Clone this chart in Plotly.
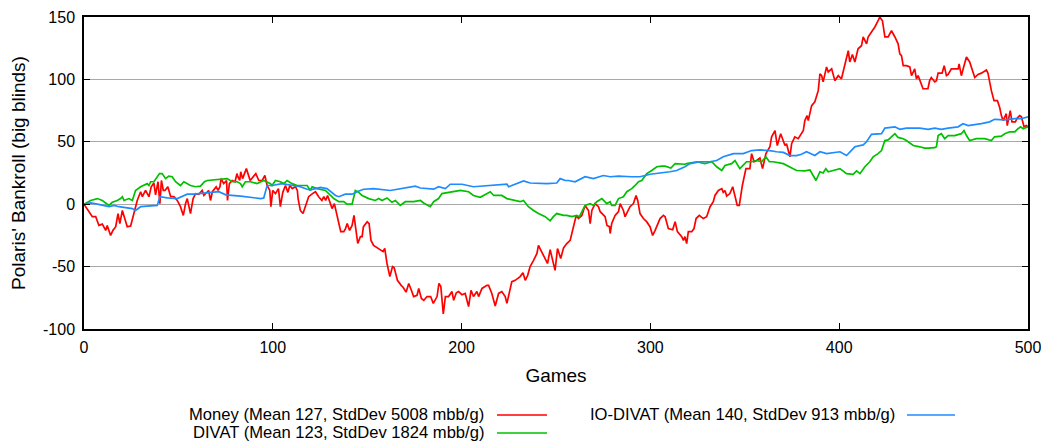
import plotly.graph_objects as go

# ---------------- data ----------------
money_games = [0, 4.4, 6.2, 7.9, 9.7, 11.5, 12.3, 14.1, 15.3, 16.8, 18, 19, 20.3, 21.2, 22.9, 24.7, 25.9, 27, 28.2, 30,
               30.9, 32.6, 33.5, 34.4, 35.6, 37, 37.9, 39.2, 40.2, 41, 42, 42.9, 44.4, 45.9, 47.6, 49.4, 51.1, 52.6, 53.8, 54.7,
               56.4, 57.8, 59.1, 60.8, 62.6, 63.5, 66, 67, 68, 70, 71, 72, 72.6, 74, 75.5, 76, 77, 78.5, 80, 81,
               81.5, 82.5, 83, 84, 86, 87, 88, 91, 92.6, 94.4, 95.8, 97, 98.4, 99, 100, 101.4, 103, 104, 105.3, 106.7,
               108, 109, 110.3, 112, 113, 113.4, 114.6, 116, 117, 118, 119, 121, 122.6, 124.3, 126, 127, 128, 129, 131.4, 132.6,
               133.7, 135, 136, 137.6, 138.5, 139.4, 140.7, 142, 143, 144, 145, 146.4, 147.3, 148, 150, 151, 152, 153.4, 155, 157,
               158.4, 159.3, 160.5, 162, 163.4, 164.3, 166, 168, 169, 170.6, 172, 173.4, 174.6, 176.4, 177.3, 178.7, 180, 181.7, 183.6, 185,
               187, 188, 189, 190.3, 191.4, 193.1, 194.9, 195.8, 197.2, 198.4, 200.2, 201.9, 203.7, 205, 206.3, 208.1, 209, 210.8, 213.4, 214.3,
               216, 217.8, 219.6, 221.3, 223.1, 224, 224.9, 226.6, 228.4, 231, 232.5, 233.7, 235, 236.3, 238.1, 239.9, 240.7, 242.5, 245.5, 246.9,
               247.8, 249.5, 250.8, 251.8, 252.5, 254, 255.7, 257.5, 259.3, 260.7, 261.9, 263.7, 265.4, 267.2, 268.1, 269, 270.7, 272.5, 273.4, 276,
               277, 278.3, 278.7, 279.5, 281.3, 283.1, 284, 285.7, 286.6, 289.2, 291, 292.4, 293.3, 294.5, 296.3, 298, 299.8, 301.2, 302.5, 303.9,
               305.1, 306.9, 307.8, 309.5, 311.8, 313.1, 314.3, 316.6, 317.5, 318.3, 319.2, 320.1, 321.9, 323.1, 324.2, 325.9, 328, 329.8, 331.6, 333.3,
               334.2, 336, 337.8, 338.6, 339.5, 340.4, 342.1, 343.6, 344.8, 346, 347.1, 348.7, 350.6, 352.7, 353.6, 354.9, 356.3, 358, 359.4, 361.2,
               363.3, 364.2, 366, 367.2, 369, 371.3, 372.1, 373.9, 374.8, 376.5, 378.3, 380, 381, 381.8, 383, 383.6, 385.4, 387.1, 388.9, 389.8,
               390.7, 391.5, 393.3, 394.2, 396, 397.7, 399.5, 401.2, 403, 404.8, 405.6, 407, 408.3, 410, 411.8, 412.7, 414.5, 415.3, 417.1, 418.9,
               420.6, 421.5, 422.9, 424.2, 425.9, 427.7, 429.5, 431.2, 432.1, 433, 433.9, 435.6, 437.4, 438.3, 440, 440.9, 441.8, 442.7, 444.4, 447,
               447.9, 448.8, 450.6, 451.5, 452.4, 454.5, 455.6, 456.8, 457.7, 459.4, 463, 463.5, 464.7, 466.1, 467.4, 469.1, 470.4, 471.8, 473.5, 475.3,
               478, 478.8, 480.6, 482, 483.8, 485, 485.9, 486.8, 488.5, 489, 490.6, 491.5, 493.3, 494.3, 495.6, 496.5, 497.9, 499.1, 500]
money = [0, -10, -10, -17, -16, -21, -17, -25, -21, -18, -7.5, -15.5, -5, -10, -18, -17.5, -10, -2, 3, 10,
         6, 11, 8.5, 6, 14, 17, 7.5, 18, 0.5, 19, 11, 11, 14, 6, 6, 3, -2, -9, 0.5, 4.5,
         -7.5, 4.5, 8.5, 8, 11, 7, 11, 3, 10, 14, 11, 14, 20.5, 16.5, 19, 3, 16.5, 19, 18, 24.5,
         22, 19, 26, 20.5, 28.5, 24.5, 19, 24.5, 19, 19, 23, 15, 11, -2, 11, 8.5, 12.5, -2, 9.5, 15,
         9.5, 15, 12.5, 14, 11, 4.5, -5, -7.5, -3.5, 0.5, 6, 8.5, 10, 6, 3, 6, 3, 7, -3.5, 0.5,
         -6, -15.5, -22, -22, -19.5, -15.5, -21, -17, -9, -21, -31.5, -26, -26, -18, -14, -15.5, -29, -33, -34.5, -37,
         -38, -35.5, -47.5, -58, -50, -51, -61, -65, -66.5, -70.5, -63.5, -69, -74, -73, -67.5, -75.5, -77, -74, -74, -79.5,
         -74, -63.5, -66, -88, -74, -74, -70, -77, -71, -70, -72.5, -71.5, -82, -69, -74, -70, -74, -67.5, -65, -65,
         -71.5, -81.5, -71.5, -70, -74, -79.5, -74, -62, -61, -58, -55, -61, -57, -50, -45, -39.5, -33, -38.5, -47.5, -36.5,
         -42, -53, -35.5, -41, -43.5, -35, -31.5, -29, -18, -9, -11.5, -9, -1, -5, -15.5, -5, 0.5, -2, -6, -10,
         -17, -18, -23.5, -15.5, -9, -6, 0.5, -5, -10, -2, 0.5, 7, 3, -7.5, -11.5, -14, -18, -25, -21, -15.5,
         -11.5, -9, -10, -19.5, -20.5, -14, -22, -26, -29, -26, -31.5, -22, -22, -19.5, -11.5, -9, -11.5, -10, -2, 2,
         7, 11, 12.5, 9.5, 11, 6.5, 8.5, 14, 6, -1, -1, 15, 28.5, 28.5, 40.5, 34, 35, 37, 28.5, 40.5,
         46, 54, 59, 47, 56.5, 47, 48.5, 38, 48.5, 54, 52.5, 56.5, 59, 67, 71, 67, 79, 82, 91, 104.5,
         103, 98, 110, 106, 108.5, 99, 103, 100.5, 111, 123, 114, 120, 114, 124.5, 127, 134, 128.5, 134, 138, 142,
         147, 150, 147, 134, 134, 139, 134, 128.5, 120.5, 119, 111, 111, 110, 103, 108.5, 100.5, 103, 99, 92.5, 92.5,
         99, 101.5, 98, 99, 105, 105, 111, 103, 104, 108.5, 108.5, 112.5, 103, 111, 118, 114, 108.5, 101.5, 104, 105,
         107.5, 105, 91, 83, 83, 77.5, 71, 67, 72.5, 63, 75, 66, 66, 69, 71, 70, 62, 63, 62]

divat_games = [0, 3.5, 7.1, 9.7, 13.2, 15, 17.6, 19.4, 20.3, 21.2, 23.8, 25.6, 27.3, 30, 33.5, 34.4, 35.3, 37, 40, 41.4,
               43.2, 44.9, 46.7, 48.5, 51.1, 52.9, 56.4, 59.1, 61.7, 63.8, 65.3, 70.5, 75.8, 78.5, 81.1, 82.9, 83.8, 85.5, 88.2, 91.7,
               95.2, 98.8, 99.6, 101.4, 104, 105.8, 107.6, 110.2, 112.9, 118.2, 119.9, 120.8, 123.5, 127.9, 130.5, 132.3, 135, 137.6, 139.3, 142,
               143.7, 145.5, 147.3, 150.8, 154.3, 156.1, 157.8, 160.5, 163.1, 164.9, 167.5, 170.2, 174.6, 178.2, 179.9, 183.4, 185.2, 187.8, 189.6, 191.4,
               194, 199.3, 203.7, 206.3, 209.9, 211.6, 215.2, 217, 221.3, 224, 227.5, 231, 232.8, 235.4, 238.1, 240.7, 244.3, 246.9, 248.6, 250.4,
               254, 255.7, 258.4, 261, 262.4, 264.2, 265.4, 268.1, 269.8, 271.6, 274.3, 276.9, 278.7, 279.5, 281.3, 283.1, 285.7, 287.5, 290.1, 291.9,
               293.7, 295.4, 298.1, 300.7, 303.4, 306, 307.8, 310.8, 313.1, 318.3, 319.2, 324.5, 328.9, 332.5, 335.1, 337.8, 339.5, 343, 344.8, 347.4,
               349.2, 350.9, 353.6, 356.3, 358.9, 361.2, 363, 365, 370.4, 373.9, 377.4, 381.8, 384.5, 386.2, 387.7, 389.8, 391.5, 392.9, 394.2, 396.8,
               400.4, 403.9, 407.4, 409.2, 411, 413.6, 416.2, 418, 420.6, 422.4, 424.2, 425.9, 428.6, 429.5, 431.2, 433.9, 435.6, 439.2, 442.7, 445.3,
               447.1, 450.6, 451.5, 452.4, 454.1, 455.9, 457.7, 461.2, 464.7, 466.1, 467.4, 469.1, 472.7, 477.1, 480.6, 482.3, 485.9, 487.7, 490.3, 493,
               494.7, 496.1, 497.4, 500]
divat = [0, 3, 4.5, 3, -1, 1.5, 3, 4.5, 6, 3, 4.5, 3, 11, 14, 16.5, 15, 18, 18, 24.5, 24.5,
         20.5, 22.5, 22, 18, 15, 18, 15, 14, 14.5, 18, 19, 20, 20.5, 18, 18, 16.5, 14, 18, 18, 16.5,
         19, 16.5, 15, 19, 18, 16.5, 19, 16.5, 15, 15, 11, 14, 12.5, 11, 7, 4.5, 2, 2, 0, 0,
         11, 9.5, 7, 4.5, 3, 4.5, 3, 5, 1.5, 3, -1, 2, 2, 3, 1, -2, 2, 4.5, 8.5, 9,
         10, 11, 10, 7, 5.5, 7, 10, 7, 7, 4.5, 3, 2, 3, -2, -5, -7.5, -10, -13.3, -10, -7.5,
         -9, -9, -10, -9, -10, -5, -1, 0.5, -1, 2, 4.5, 0.5, 2, -1, -1, 4.5, 6, 10, 12.5, 15,
         18, 19, 24.5, 27, 30, 30.5, 30.5, 29, 32.5, 32, 32.5, 34, 32.5, 34, 30, 27, 31, 32.5, 35, 28.5,
         31, 34, 34, 35, 34, 38, 34, 34, 32.5, 30, 27, 26.7, 27.5, 23, 19, 26, 25, 28.5, 26, 27,
         28.5, 24.5, 24, 26.7, 24.5, 30, 34, 38, 40.5, 43, 51, 51.5, 55, 56.5, 53.5, 52.5, 51, 47, 46, 45,
         45, 45.3, 46, 55, 56.5, 52.5, 55, 55, 56.5, 59, 55, 51, 52.5, 52.5, 51, 54, 54.5, 56.5, 58, 58,
         60.5, 62, 60.5, 62]

io_divat_games = [0, 3.5, 7.1, 13.2, 15.9, 18.5, 25.6, 27.3, 30, 38.8, 40.2, 44.1, 49.4, 52, 54.7, 58.2, 61.7, 65.3, 71.4, 75.1,
                  83, 93.5, 95.2, 97, 99.6, 104.9, 112, 114.6, 118.2, 119.9, 122.6, 125.2, 128.7, 133.2, 135, 138.4, 142, 144.6, 148.1, 153.4,
                  162.2, 165.8, 169.3, 175.5, 178.2, 185.2, 187.8, 191.4, 194, 200.2, 206.3, 215.2, 224, 224.9, 229.3, 232.8, 236.3, 245.2, 250.4, 252.2,
                  254.9, 256.6, 260.1, 265.4, 269.8, 275.1, 278.7, 283.1, 290.1, 294.5, 299.8, 303.4, 310.4, 313.9, 318.3, 321, 326.3, 331.6, 335.1, 338.6,
                  344, 349.2, 353.6, 358, 363.3, 366.8, 370.4, 373.9, 377.4, 380, 382.7, 387.1, 389.8, 393.3, 400.4, 403.9, 408.3, 412.7, 414.5, 417.1,
                  422.4, 424.2, 429.5, 432.1, 435.6, 442.7, 447.1, 450.6, 454.1, 457.7, 463, 465.6, 468.3, 475.3, 479.7, 482.3, 487.7, 493, 496.5, 500]
io_divat = [0, 1, 0, -2, -1, -2, -3.5, -5, -2, -1, 6, 5, 4.5, 6.5, 8, 8, 8.5, 9, 10, 7.5,
            6.5, 4.5, 5, 15, 15, 16.5, 15, 14, 12, 11.5, 12.5, 13.5, 12.5, 7, 6, 8, 8, 10, 12, 12.5,
            11, 12, 12.5, 14.5, 13, 12, 14, 12.5, 16, 16, 14, 15, 16, 14, 16.5, 18.7, 17, 16.5, 17, 20.5,
            19, 19, 18, 22, 20.5, 23, 22, 22.5, 22, 22, 24, 24.5, 26, 27, 30, 32.5, 34, 34, 35, 38,
            40.5, 40.5, 43, 43.5, 43, 42, 41.5, 39, 39, 40, 42, 39, 42, 40.5, 42, 39, 46, 47.5, 50, 56,
            56.5, 61, 62, 60, 61, 61, 60, 61, 60, 61, 62, 64.5, 63, 64.5, 66, 68, 67.5, 68.5, 68.5, 70]

series_names = ["Money (Mean 127, StdDev 5008 mbb/g)",
                "DIVAT (Mean 123, StdDev 1824 mbb/g)",
                "IO-DIVAT (Mean 140, StdDev 913 mbb/g)"]
series_colors = ["#ff0000", "#00c000", "#1e8cff"]
x_ticks = [0, 100, 200, 300, 400, 500]
x_tick_labels = ["0", "100", "200", "300", "400", "500"]
y_ticks = [-100, -50, 0, 50, 100, 150]
y_tick_labels = ["-100", "-50", "0", "50", "100", "150"]

FONT = "Liberation Sans, Arial, sans-serif"

fig = go.Figure()
for xs, ys, name, col in zip([money_games, divat_games, io_divat_games],
                             [money, divat, io_divat], series_names, series_colors):
    fig.add_trace(go.Scatter(x=xs, y=ys, mode="lines", name=name,
                             line=dict(color=col, width=1.7), showlegend=False))

# gnuplot-style legend: text on the left, line sample on the right
legend_items = [
    (series_names[0], series_colors[0], 0.4258, -0.2756, 0.4375, 0.4905),
    (series_names[1], series_colors[1], 0.4258, -0.3333, 0.4375, 0.4905),
    (series_names[2], series_colors[2], 0.8612, -0.2756, 0.8718, 0.9227),
]
for txt, col, xr, yc, x0, x1 in legend_items:
    fig.add_annotation(x=xr, y=yc, xref="paper", yref="paper", text=txt,
                       showarrow=False, xanchor="right", yanchor="middle",
                       font=dict(family=FONT, size=16.6, color="black"))
    fig.add_shape(type="line", xref="paper", yref="paper", x0=x0, x1=x1, y0=yc, y1=yc,
                  line=dict(color=col, width=1.7))

# the page body adds an 8px offset, so the figure is 8px smaller and margins shifted
fig.update_layout(
    width=1041, height=438,
    margin=dict(l=76, r=21, t=9, b=117, autoexpand=False),
    paper_bgcolor="white", plot_bgcolor="white",
    font=dict(family=FONT, size=16, color="black"),
    xaxis=dict(range=[0, 500], tickvals=x_ticks, ticktext=x_tick_labels, ticks="inside", ticklen=6,
               tickcolor="black", mirror="ticks", showline=True, linecolor="black",
               linewidth=1.5, showgrid=False, zeroline=False, automargin=False,
               title=dict(text="Games", standoff=14), ticklabelstandoff=3),
    yaxis=dict(range=[-100, 150], tickvals=y_ticks, ticktext=y_tick_labels, ticks="inside", ticklen=6,
               tickcolor="black", mirror="ticks", showline=True, linecolor="black",
               linewidth=1.5, showgrid=True, gridcolor="#a8a8a8", gridwidth=1.3, automargin=False,
               zeroline=False, title=dict(text="Polaris' Bankroll (big blinds)", standoff=12),
               ticklabelstandoff=4),
)

fig.write_html("out.html")
